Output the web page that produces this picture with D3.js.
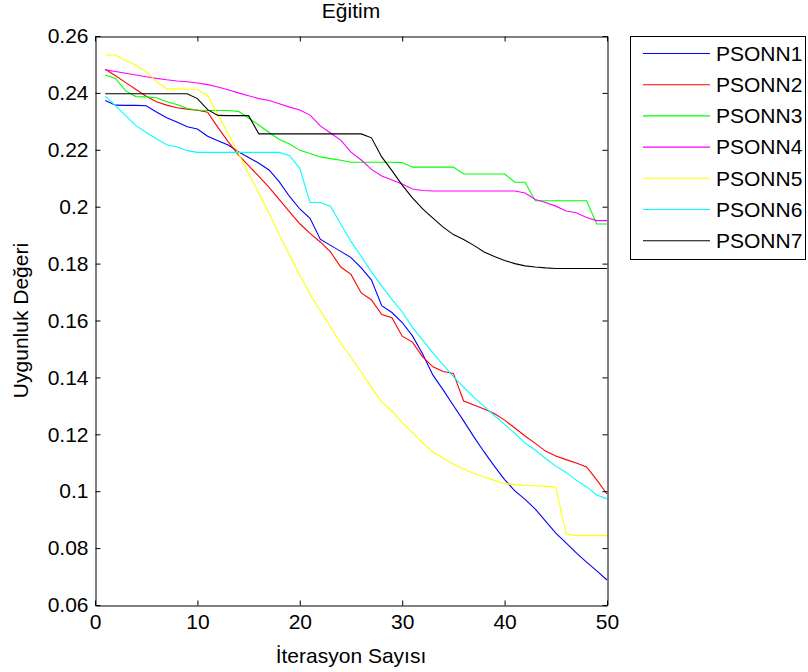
<!DOCTYPE html>
<html>
<head>
<meta charset="utf-8">
<script src="https://cdn.jsdelivr.net/npm/d3@7"></script>
<style>
  html, body { margin: 0; padding: 0; background: #fff; }
  svg { display: block; font-family: "Liberation Sans", Arial, Helvetica, sans-serif; }
</style>
</head>
<body>
<div id="chart"></div>
<script>
const iterations = [1,2,3,4,5,6,7,8,9,10,11,12,13,14,15,16,17,18,19,20,21,22,23,24,25,26,27,28,29,30,31,32,33,34,35,36,37,38,39,40,41,42,43,44,45,46,47,48,49,50];

const seriesNames = ["PSONN1","PSONN2","PSONN3","PSONN4","PSONN5","PSONN6","PSONN7"];
const seriesColors = ["#0000ff","#ff0000","#00ff00","#ff00ff","#ffff00","#00ffff","#000000"];

const psonn1 = [0.2373,0.2357,0.2356,0.2356,0.2355,0.2333,0.2313,0.2298,0.2281,0.2273,
                0.2248,0.2232,0.2217,0.2193,0.2173,0.2153,0.2129,0.2087,0.2036,0.1992,
                0.1959,0.1886,0.1864,0.1843,0.1821,0.1785,0.1742,0.1652,0.1628,0.1593,
                0.1546,0.1482,0.1408,0.1356,0.1301,0.1247,0.1191,0.1138,0.1088,0.1041,
                0.1001,0.0971,0.0937,0.0895,0.0853,0.0818,0.0783,0.0751,0.0720,0.0688];
const psonn2 = [0.2483,0.2460,0.2436,0.2412,0.2388,0.2369,0.2357,0.2348,0.2343,0.2339,
                0.2332,0.2279,0.2229,0.2182,0.2144,0.2107,0.2068,0.2025,0.1982,0.1940,
                0.1906,0.1876,0.1841,0.1788,0.1762,0.1697,0.1672,0.1621,0.1610,0.1545,
                0.1524,0.1472,0.1437,0.1421,0.1414,0.1317,0.1303,0.1289,0.1273,0.1250,
                0.1222,0.1194,0.1168,0.1141,0.1124,0.1111,0.1099,0.1085,0.1040,0.0990];
const psonn3 = [0.2463,0.2451,0.2407,0.2387,0.2386,0.2383,0.2369,0.2359,0.2345,0.2340,
                0.2338,0.2338,0.2338,0.2335,0.2312,0.2287,0.2261,0.2236,0.2220,0.2198,
                0.2187,0.2175,0.2169,0.2163,0.2156,0.2156,0.2156,0.2156,0.2156,0.2155,
                0.2139,0.2139,0.2139,0.2139,0.2139,0.2115,0.2115,0.2115,0.2115,0.2115,
                0.2086,0.2086,0.2021,0.2021,0.2021,0.2021,0.2021,0.2021,0.1939,0.1939];
const psonn4 = [0.2481,0.2475,0.2469,0.2463,0.2457,0.2451,0.2446,0.2442,0.2439,0.2435,
                0.2429,0.2421,0.2411,0.2400,0.2390,0.2380,0.2373,0.2362,0.2350,0.2340,
                0.2322,0.2284,0.2259,0.2234,0.2192,0.2164,0.2131,0.2108,0.2094,0.2080,
                0.2062,0.2057,0.2055,0.2055,0.2055,0.2055,0.2055,0.2055,0.2055,0.2055,
                0.2055,0.2048,0.2025,0.2015,0.2002,0.1985,0.1979,0.1962,0.1951,0.1951];
const psonn5 = [0.2533,0.2533,0.2513,0.2497,0.2475,0.2440,0.2414,0.2414,0.2413,0.2412,
                0.2390,0.2323,0.2257,0.2188,0.2117,0.2047,0.1977,0.1901,0.1829,0.1760,
                0.1692,0.1634,0.1577,0.1520,0.1471,0.1419,0.1365,0.1314,0.1282,0.1241,
                0.1206,0.1170,0.1138,0.1116,0.1095,0.1078,0.1062,0.1050,0.1038,0.1027,
                0.1023,0.1021,0.1019,0.1017,0.1015,0.0850,0.0844,0.0844,0.0844,0.0844];
const psonn6 = [0.2389,0.2355,0.2320,0.2285,0.2261,0.2239,0.2218,0.2211,0.2197,0.2191,
                0.2191,0.2191,0.2191,0.2191,0.2191,0.2191,0.2191,0.2191,0.2179,0.2135,
                0.2015,0.2015,0.2002,0.1939,0.1878,0.1825,0.1771,0.1721,0.1674,0.1630,
                0.1576,0.1531,0.1486,0.1444,0.1403,0.1366,0.1330,0.1298,0.1266,0.1235,
                0.1203,0.1169,0.1145,0.1115,0.1088,0.1066,0.1039,0.1015,0.0987,0.0973];
const psonn7 = [0.2397,0.2397,0.2397,0.2397,0.2397,0.2397,0.2397,0.2397,0.2397,0.2380,
                0.2341,0.2321,0.2320,0.2320,0.2320,0.2256,0.2256,0.2256,0.2256,0.2256,
                0.2256,0.2256,0.2256,0.2256,0.2256,0.2256,0.2242,0.2175,0.2127,0.2076,
                0.2031,0.1992,0.1960,0.1928,0.1902,0.1885,0.1864,0.1841,0.1825,0.1811,
                0.1800,0.1792,0.1788,0.1785,0.1783,0.1783,0.1783,0.1783,0.1783,0.1783];

const xTicks = [0,10,20,30,40,50];
const yTicks = [0.06,0.08,0.10,0.12,0.14,0.16,0.18,0.20,0.22,0.24,0.26];
const yTickLabels = ["0.06","0.08","0.1","0.12","0.14","0.16","0.18","0.2","0.22","0.24","0.26"];

const titleText = "Eğitim";
const xLabelText = "İterasyon Sayısı";
const yLabelText = "Uygunluk Değeri";

const allSeries = [psonn1, psonn2, psonn3, psonn4, psonn5, psonn6, psonn7];

const W = 808, H = 672;
const plot = { left: 95, right: 607, top: 36, bottom: 605 };
const fontSize = 21;

const svg = d3.select("#chart").append("svg")
  .attr("width", W).attr("height", H);

const x = d3.scaleLinear().domain([0, 50]).range([plot.left, plot.right]);
const y = d3.scaleLinear().domain([0.06, 0.26]).range([plot.bottom, plot.top]);

// plot background
svg.append("rect")
  .attr("x", plot.left).attr("y", plot.top)
  .attr("width", plot.right - plot.left).attr("height", plot.bottom - plot.top)
  .attr("fill", "#fff");

// lines
const line = d3.line()
  .x((d, i) => x(iterations[i]))
  .y(d => y(d));

const linesG = svg.append("g");
allSeries.forEach((s, k) => {
  linesG.append("path")
    .datum(s)
    .attr("d", line)
    .attr("fill", "none")
    .attr("stroke", seriesColors[k])
    .attr("stroke-width", 1.1);
});

// axes
function styleAxis(g) {
  g.selectAll(".domain").attr("stroke", "#000").attr("stroke-width", 1);
  g.selectAll(".tick line").attr("stroke", "#000").attr("stroke-width", 1);
  g.selectAll(".tick text").attr("fill", "#000")
    .style("font-size", fontSize + "px")
    .style("font-family", "'Liberation Sans', Arial, Helvetica, sans-serif");
}

const xAxis = d3.axisBottom(x).tickValues(xTicks).tickFormat(d3.format("d"))
  .tickSizeInner(-5).tickSizeOuter(0).tickPadding(9);
svg.append("g").attr("transform", `translate(0,${plot.bottom + 0.5})`).call(xAxis).call(styleAxis);

const xAxisTop = d3.axisTop(x).tickValues(xTicks).tickFormat("")
  .tickSizeInner(-5).tickSizeOuter(0);
svg.append("g").attr("transform", `translate(0,${plot.top + 0.5})`).call(xAxisTop).call(styleAxis);

const yAxis = d3.axisLeft(y).tickValues(yTicks).tickFormat((d, i) => yTickLabels[i])
  .tickSizeInner(-5).tickSizeOuter(0).tickPadding(7);
svg.append("g").attr("transform", `translate(${plot.left + 0.5},0)`).call(yAxis).call(styleAxis);

const yAxisRight = d3.axisRight(y).tickValues(yTicks).tickFormat("")
  .tickSizeInner(-5).tickSizeOuter(0);
svg.append("g").attr("transform", `translate(${plot.right + 0.5},0)`).call(yAxisRight).call(styleAxis);

// title & labels
svg.append("text")
  .attr("x", (plot.left + plot.right) / 2).attr("y", 18)
  .attr("text-anchor", "middle")
  .style("font-size", fontSize + "px")
  .text(titleText);

svg.append("text")
  .attr("x", (plot.left + plot.right) / 2).attr("y", 663)
  .attr("text-anchor", "middle")
  .style("font-size", fontSize + "px")
  .text(xLabelText);

svg.append("text")
  .attr("transform", `translate(28,${(plot.top + plot.bottom) / 2}) rotate(-90)`)
  .attr("text-anchor", "middle")
  .style("font-size", fontSize + "px")
  .text(yLabelText);

// legend
const legend = { left: 630.5, top: 36.5, right: 805.5, bottom: 259.5 };
const lg = svg.append("g");
lg.append("rect")
  .attr("x", legend.left).attr("y", legend.top)
  .attr("width", legend.right - legend.left).attr("height", legend.bottom - legend.top)
  .attr("fill", "#fff").attr("stroke", "#000").attr("stroke-width", 1);

seriesNames.forEach((name, k) => {
  const cy = 53.5 + k * 31.2;
  lg.append("line")
    .attr("x1", 643).attr("x2", 710)
    .attr("y1", cy).attr("y2", cy)
    .attr("stroke", seriesColors[k]).attr("stroke-width", 1.1);
  lg.append("text")
    .attr("x", 716).attr("y", cy)
    .attr("dy", "0.35em")
    .style("font-size", fontSize + "px")
    .text(name);
});
</script>
</body>
</html>
